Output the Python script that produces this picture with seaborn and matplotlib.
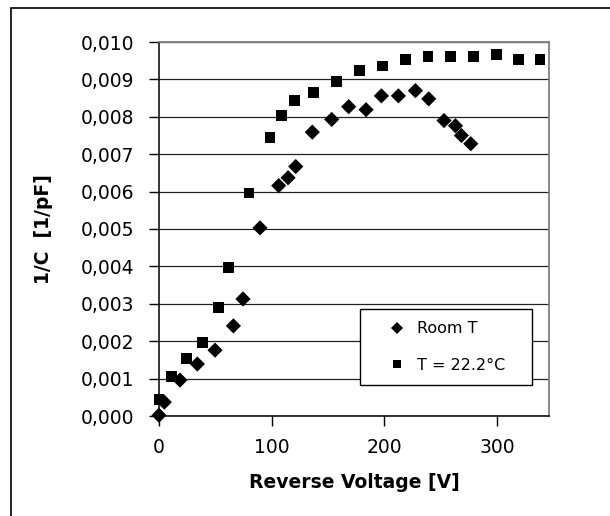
import numpy as np
import pandas as pd
import matplotlib
matplotlib.use("Agg")
import matplotlib.pyplot as plt
import seaborn as sns
from matplotlib.patches import Rectangle

# ---- data ----
room_v = [0, 4.7, 18.6, 34, 49.7, 66, 74.5, 89.6, 106.2, 114.5, 121.3, 136, 153.2,
          168.3, 183.7, 197.3, 212.4, 227.5, 239.3, 252.9, 263, 268.3, 276.6]
room_c = [0.00002, 0.00037, 0.00096, 0.00139, 0.00176, 0.00241, 0.00313, 0.00503,
          0.00616, 0.00637, 0.00667, 0.00759, 0.00793, 0.00827, 0.00819, 0.00856,
          0.00856, 0.00870, 0.00848, 0.00790, 0.00776, 0.00750, 0.00728]
t22_v = [0, 11, 24.6, 38.5, 53, 61.5, 79.9, 98.5, 108.9, 120.4, 137.2, 157.7,
         177.8, 198.1, 218.6, 238.7, 258.8, 278.9, 299.3, 319.2, 338]
t22_c = [0.00044, 0.00106, 0.00153, 0.00196, 0.00290, 0.00397, 0.00596, 0.00745,
         0.00803, 0.00843, 0.00864, 0.00894, 0.00923, 0.00936, 0.00953, 0.00962,
         0.00962, 0.00962, 0.00967, 0.00953, 0.00953]
series_names = ["Room T", "T = 22.2°C"]
x_ticks = [0, 100, 200, 300]
x_tick_labels = ["0", "100", "200", "300"]
y_ticks = [0.000, 0.001, 0.002, 0.003, 0.004, 0.005, 0.006, 0.007, 0.008, 0.009, 0.010]
y_tick_labels = ["0,000", "0,001", "0,002", "0,003", "0,004", "0,005",
                 "0,006", "0,007", "0,008", "0,009", "0,010"]

df = pd.concat([
    pd.DataFrame({"V": room_v, "C": room_c, "series": series_names[0]}),
    pd.DataFrame({"V": t22_v, "C": t22_c, "series": series_names[1]}),
], ignore_index=True)

sns.set_style("white")
plt.rcParams["font.family"] = ["DejaVu Sans"]
plt.rcParams["text.color"] = "black"
plt.rcParams["axes.labelcolor"] = "black"
plt.rcParams["xtick.color"] = "black"
plt.rcParams["ytick.color"] = "black"

fig = plt.figure(figsize=(6.10, 5.16), dpi=100)
ax = fig.add_axes([159/610, 1-416/516, 390/610, 374/516])

sns.scatterplot(data=df, x="V", y="C", hue="series", style="series",
                markers={series_names[0]: "D", series_names[1]: "s"},
                palette={series_names[0]: "black", series_names[1]: "black"},
                s=60, edgecolor="none", linewidth=0, ax=ax, clip_on=False, zorder=3)

ax.set_xlim(0, 346)
ax.set_ylim(0, 0.010)
ax.set_xticks(x_ticks)
ax.set_xticklabels(x_tick_labels, fontsize=13.5)
ax.set_yticks(y_ticks)
ax.set_yticklabels(y_tick_labels, fontsize=13.5)
ax.tick_params(axis="both", direction="out", length=7, width=1, color="black",
               labelcolor="black")
ax.tick_params(axis="y", pad=11, left=True)
ax.tick_params(axis="x", pad=9, bottom=True)

ax.yaxis.grid(True, color="#222222", linewidth=0.9)
ax.xaxis.grid(False)
ax.set_axisbelow(True)

for side in ["left", "bottom"]:
    ax.spines[side].set_color("black")
    ax.spines[side].set_linewidth(1.1)
for side in ["top", "right"]:
    ax.spines[side].set_color("#808080")
    ax.spines[side].set_linewidth(1.3)
    ax.spines[side].set_visible(True)

ax.set_xlabel("Reverse Voltage [V]", fontsize=13.5, fontweight="bold", labelpad=11,
              color="black")
ax.set_ylabel("1/C  [1/pF]", fontsize=13.5, fontweight="bold", labelpad=20,
              color="black")

leg = ax.legend(loc="lower left", bbox_to_anchor=(0.515, 0.083, 0.441, 0.208),
                mode="expand", fontsize=11.5, frameon=True, fancybox=False,
                edgecolor="black", framealpha=1, borderpad=0.75, labelspacing=1.35,
                handlelength=3.2, handletextpad=-0.4, markerscale=0.8,
                borderaxespad=0)
leg.get_frame().set_linewidth(1.0)
for t in leg.get_texts():
    t.set_color("black")

fig.add_artist(Rectangle((11/610, -0.1), 1.2, (1-8/516)+0.1, transform=fig.transFigure,
                         fill=False, edgecolor="black", linewidth=1.2))

fig.savefig("out.png", dpi=100, facecolor="white")
